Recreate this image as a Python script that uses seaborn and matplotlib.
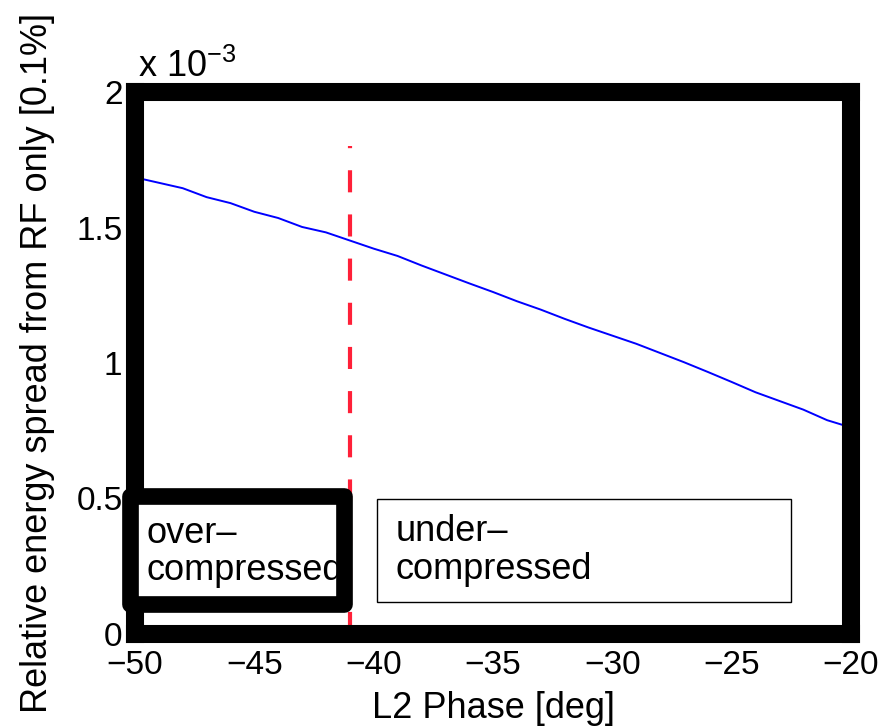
import matplotlib
matplotlib.use("Agg")
import matplotlib.pyplot as plt
import seaborn as sns
import pandas as pd
from matplotlib.patches import Rectangle

# ---- data (energy spread in units of 1e-3) ----
phase_deg = [-50, -49, -48, -47, -46, -45, -44, -43, -42, -41, -40,
             -39, -38, -37, -36, -35, -34, -33, -32, -31, -30,
             -29, -28, -27, -26, -25, -24, -23, -22, -21, -20]
spread_e3 = [1.685, 1.665, 1.645, 1.612, 1.590, 1.558, 1.535, 1.502, 1.482, 1.452, 1.422,
             1.395, 1.360, 1.327, 1.294, 1.262, 1.228, 1.197, 1.163, 1.131, 1.101,
             1.071, 1.037, 1.003, 0.967, 0.930, 0.892, 0.860, 0.828, 0.789, 0.762]
boundary_phase = -41
boundary_top = 1.8
x_ticks = [-50, -45, -40, -35, -30, -25, -20]
y_ticks = [0, 0.5, 1, 1.5, 2]
y_ticklabels = ["0", "0.5", "1", "1.5", "2"]
over_label = "over\u2013\ncompressed"
under_label = "under\u2013\ncompressed"

sns.set_theme(style="white")
plt.rcParams['font.family'] = ['Liberation Sans', 'DejaVu Sans']
plt.rcParams['mathtext.fontset'] = 'custom'
plt.rcParams['mathtext.rm'] = 'Liberation Sans'
plt.rcParams['mathtext.it'] = 'Liberation Sans'
plt.rcParams['mathtext.sf'] = 'Liberation Sans'
for k in ['text.color', 'axes.labelcolor', 'xtick.color', 'ytick.color']:
    plt.rcParams[k] = 'black'

FS_TICK = 24
FS = 26
fig = plt.figure(figsize=(8.94, 7.28), dpi=100)
ax = fig.add_axes([135/894, 1-634/728, (851-135)/894, (634-92)/728])

df = pd.DataFrame({"phase": phase_deg, "spread": spread_e3})
sns.lineplot(data=df, x="phase", y="spread", ax=ax, color="#0000ff", lw=1.4, zorder=2)

ax.plot([boundary_phase, boundary_phase], [0, boundary_top], color="#ff2038",
        lw=3, linestyle=(0, (5.3, 5.3)), zorder=2.2)

ax.set_xlim(-50, -20)
ax.set_ylim(0, 2)
ax.set_xticks(x_ticks)
ax.set_yticks(y_ticks)
ax.set_yticklabels(y_ticklabels)
ax.tick_params(axis='x', length=0, pad=11.5, labelsize=FS_TICK, colors='black')
ax.tick_params(axis='y', length=0, pad=9, labelsize=FS_TICK, colors='black')

for s in ax.spines.values():
    s.set_visible(True)
    s.set_color("black")
    s.set_linewidth(13)
    s.set_capstyle("projecting")

ax.set_xlabel("L2 Phase [deg]", fontsize=FS, color='black')
ax.set_ylabel("Relative energy spread from RF only [0.1%]", fontsize=FS, color='black')
ax.xaxis.set_label_coords(0.5, -0.106)
ax.yaxis.set_label_coords(-0.112, 0.5)

ax.text(0.004, 1.028, r"x 10$^{\mathrm{-3}}$", transform=ax.transAxes, fontsize=FS,
        ha="left", va="baseline", color='black')

# over-compressed box
ax.add_patch(Rectangle((-50.21, 0.111), 8.97, 0.398, facecolor="white",
                       edgecolor="none", zorder=3, clip_on=False))
ax.text(-49.5, 0.303, over_label, fontsize=FS, ha="left", va="center",
        linespacing=1.09, zorder=3.5, clip_on=False, color='black')
ax.add_patch(Rectangle((-50.21, 0.111), 8.97, 0.398, fill=False,
                       edgecolor="black", lw=12, joinstyle="round", zorder=4, clip_on=False))

# under-compressed box
ax.add_patch(Rectangle((-39.86, 0.118), 17.34, 0.38, facecolor="white",
                       edgecolor="black", lw=1.0, zorder=3))
ax.text(-39.07, 0.308, under_label, fontsize=FS, ha="left", va="center",
        linespacing=1.09, zorder=3.5, color='black')

fig.savefig("out.png", dpi=100)
